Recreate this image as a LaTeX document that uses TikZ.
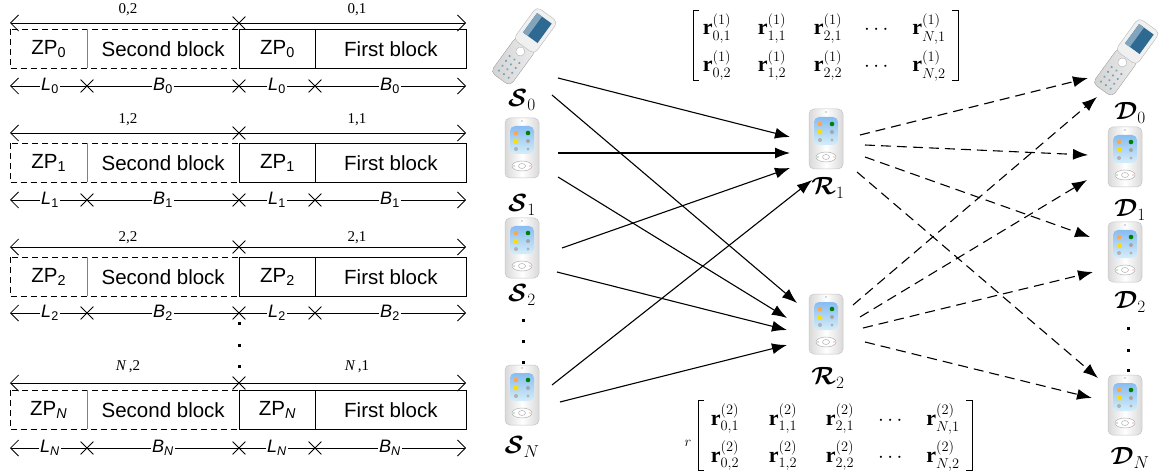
\documentclass[tikz,border=0pt]{standalone}
\usepackage{amsmath,bm}
\usepackage{fontspec}
\setmainfont{Liberation Serif}
\setsansfont{Liberation Sans}
\usetikzlibrary{arrows.meta,shapes.misc,calc}
\definecolor{scrdark}{RGB}{45,105,145}
\definecolor{scrlight}{RGB}{150,210,240}
\tikzset{
  blk/.style={minimum height=39pt, inner sep=0pt, anchor=north west, font=\sffamily\fontsize{20.5}{24}\selectfont},
  sblk/.style={blk, draw, line width=0.8pt},
  dim/.style={line width=0.8pt},
  bothtips/.style={{Straight Barb[length=8pt,width=16pt]}-{Straight Barb[length=8pt,width=16pt]}},
  xmark/.style={cross out, draw, line width=0.8pt, minimum size=12pt, inner sep=0pt},
  dimlab/.style={fill=white, inner sep=1pt, font=\sffamily\fontsize{18}{20}\selectfont},
  toplab/.style={inner sep=0pt, font=\fontsize{15}{17}\selectfont},
  sarrow/.style={-{Latex[length=15pt,width=11pt]}, line width=1.1pt},
  darrow/.style={sarrow, dash pattern=on 10pt off 6pt},
  nodelab/.style={inner sep=0pt, font=\fontsize{24}{28}\selectfont},
  mentry/.style={inner sep=0pt, anchor=base, font=\fontsize{22}{26}\selectfont},
  holder/.style={minimum width=60pt, minimum height=70pt, inner sep=0pt},
  pda/.style={rectangle, rounded corners=5pt, minimum width=34pt, minimum height=60pt,
    inner sep=0pt, draw=gray!45, line width=0.5pt, left color=gray!30, right color=gray!30, middle color=white,
    path picture={
      \fill[gray!60] ([yshift=-3pt]path picture bounding box.north) circle (0.8pt);
      \shade[top color=scrlight!90!blue, bottom color=scrlight!40] ([shift={(-12pt,-6pt)}]path picture bounding box.center) rectangle ([shift={(12pt,22pt)}]path picture bounding box.center);
      \fill[orange!70] ([shift={(-6pt,15pt)}]path picture bounding box.center) circle (2.3pt);
      \fill[green!50!black] ([shift={(6pt,15pt)}]path picture bounding box.center) circle (2.3pt);
      \fill[yellow!80!orange] ([shift={(-8pt,5pt)}]path picture bounding box.center) rectangle ([shift={(-4pt,9pt)}]path picture bounding box.center);
      \fill[gray!70] ([shift={(6pt,7pt)}]path picture bounding box.center) circle (2pt);
      \fill[gray!60] ([shift={(-6pt,-1pt)}]path picture bounding box.center) circle (2pt);
      \fill[gray!60] ([shift={(6pt,-1pt)}]path picture bounding box.center) circle (1.6pt);
      \draw[gray!60, fill=white] ([shift={(0pt,-18pt)}]path picture bounding box.center) ellipse (10pt and 5pt);
      \draw[gray!60] ([shift={(0pt,-18pt)}]path picture bounding box.center) ellipse (3.5pt and 2.5pt);
      \fill[green!60!black] ([shift={(-8pt,-18pt)}]path picture bounding box.center) circle (0.7pt);
      \fill[red!70] ([shift={(8pt,-18pt)}]path picture bounding box.center) circle (0.7pt);
    }},
  flipphone/.pic={
    \begin{scope}[rotate=54]
      \filldraw[draw=gray!55, left color=gray!35, right color=gray!15, rounded corners=5pt] (-42pt,-12pt) rectangle (2pt,12pt);
      \foreach \kx in {-36,-30,-24,-18} {\foreach \ky in {-6,0,6} {\fill[cyan!40!gray] (\kx pt,\ky pt) circle (1.2pt);}}
      \draw[gray!60, fill=white] (-8pt,0pt) circle (4.5pt);
      \filldraw[draw=gray!55, fill=gray!12, rounded corners=5pt] (-2pt,-13pt) rectangle (38pt,13pt);
      \fill[scrdark] (9pt,-9pt) rectangle (33pt,9pt);
      \fill[scrdark!60!white] (9pt,3pt) rectangle (33pt,9pt);
    \end{scope}
  }
}
\begin{document}
\begin{tikzpicture}[x=1pt,y=-1pt]
\fill[white] (0,0) rectangle (1159,473);
\useasboundingbox (0,0) rectangle (1159,473);

% ---------------- left: frame structure ----------------
\foreach \i/\ta/\bt/\ba/\ly/\s/\lab in {0/23/29/86/10/0/0, 1/133/143/200/120/1/1, 2/247/257/313/238/2/2, N/383/390/448/367/{\itshape N}/{\textit{N}\,}} {
  % blocks
  \node[blk, minimum width=77pt] (zpa\i) at (10,\bt) {ZP\textsubscript{\s}};
  \node[blk, minimum width=152pt] (sba\i) at (87,\bt) {Second block};
  \draw[dim, dash pattern=on 6pt off 4pt] (zpa\i.north west) rectangle (sba\i.south east);
  \draw[gray, line width=0.6pt] (zpa\i.north east) -- (zpa\i.south east);
  \node[sblk, minimum width=76pt] (zpb\i) at (239,\bt) {ZP\textsubscript{\s}};
  \node[sblk, minimum width=151pt] (fb\i) at (315,\bt) {First block};
  % top dimension line
  \coordinate (tl\i) at (10,\ta);
  \coordinate (tr\i) at (466,\ta);
  \draw[dim, bothtips] (tl\i) -- (tr\i);
  \node[xmark] (tx\i) at (239,\ta) {};
  \node[toplab] (tla\i) at (128,\ly) {\lab,2};
  \node[toplab] (tlb\i) at (357,\ly) {\lab,1};
  % bottom dimension line
  \coordinate (bl\i) at (10,\ba);
  \coordinate (br\i) at (466,\ba);
  \draw[dim, bothtips] (bl\i) -- (br\i);
  \node[xmark] (bxa\i) at (87,\ba) {};
  \node[xmark] (bxb\i) at (239,\ba) {};
  \node[xmark] (bxc\i) at (315,\ba) {};
  \node[dimlab] (la\i) at (50,\ba) {{\itshape L}\textsubscript{\s}};
  \node[dimlab] (ba\i) at (163,\ba) {{\itshape B}\textsubscript{\s}};
  \node[dimlab] (lb\i) at (277,\ba) {{\itshape L}\textsubscript{\s}};
  \node[dimlab] (bb\i) at (390,\ba) {{\itshape B}\textsubscript{\s}};
}
\foreach \dy in {323,345,366} {\fill (237.5,\dy-1.5) rectangle (240.5,\dy+1.5);}

% ---------------- sources ----------------
\node[holder] (S0) at (525,45) {};
\pic at (S0.center) {flipphone};
\node[nodelab] (S0l) at (522,100) {$\bm{\mathcal{S}}_0$};
\node[pda] (S1) at (522,148) {};
\node[nodelab] (S1l) at (522,205) {$\bm{\mathcal{S}}_1$};
\node[pda] (S2) at (522,248) {};
\node[nodelab] (S2l) at (522,295) {$\bm{\mathcal{S}}_2$};
\foreach \dy in {320,341,362} {\fill (521.5,\dy-1.5) rectangle (524.5,\dy+1.5);}
\node[pda] (SN) at (522,395) {};
\node[nodelab] (SNl) at (522,447) {$\bm{\mathcal{S}}_N$};

% ---------------- relays ----------------
\node[pda] (R1) at (826,139) {};
\node[nodelab] (R1l) at (828,188) {$\bm{\mathcal{R}}_1$};
\node[pda] (R2) at (826,324) {};
\node[nodelab] (R2l) at (828,378) {$\bm{\mathcal{R}}_2$};

% ---------------- destinations ----------------
\node[holder] (D0) at (1127,56) {};
\pic at (D0.center) {flipphone};
\node[nodelab] (D0l) at (1130,113) {$\bm{\mathcal{D}}_0$};
\node[pda] (D1) at (1125,157) {};
\node[nodelab] (D1l) at (1130,210) {$\bm{\mathcal{D}}_1$};
\node[pda] (D2) at (1125,252) {};
\node[nodelab] (D2l) at (1130,302) {$\bm{\mathcal{D}}_2$};
\foreach \dy in {328,350,370} {\fill (1126.5,\dy-1.5) rectangle (1129.5,\dy+1.5);}
\node[pda] (DN) at (1125,405) {};
\node[nodelab] (DNl) at (1130,458) {$\bm{\mathcal{D}}_N$};

% ---------------- solid arrows: sources -> relays ----------------
\draw[sarrow] ([shift={(33,33)}]S0.center) -- ([shift={(-36,-2)}]R1.center);
\draw[sarrow] ([shift={(27,50)}]S0.center) -- ([shift={(-29,-21)}]R2.center);
\draw[sarrow] ([shift={(36,5)}]S1.center) -- ([shift={(-36,14)}]R1.center);
\draw[sarrow] ([shift={(36,29)}]S1.center) -- ([shift={(-39,-6)}]R2.center);
\draw[sarrow] ([shift={(40,0)}]S2.center) -- ([shift={(-36,29)}]R1.center);
\draw[sarrow] ([shift={(35,24)}]S2.center) -- ([shift={(-39,6)}]R2.center);
\draw[sarrow] ([shift={(30,-10)}]SN.center) -- ([shift={(-14,41)}]R1.center);
\draw[sarrow] ([shift={(38,7)}]SN.center) -- ([shift={(-39,21)}]R2.center);

% ---------------- dashed arrows: relays -> destinations ----------------
\draw[darrow] ([shift={(34,-4)}]R1.center) -- ([shift={(-39,22)}]D0.center);
\draw[darrow] ([shift={(39,6)}]R1.center) -- ([shift={(-37,-2)}]D1.center);
\draw[darrow] ([shift={(39,18)}]R1.center) -- ([shift={(-35,-15)}]D2.center);
\draw[darrow] ([shift={(31,33)}]R1.center) -- ([shift={(-27,-27)}]DN.center);
\draw[darrow] ([shift={(27,-19)}]R2.center) -- ([shift={(-30,41)}]D0.center);
\draw[darrow] ([shift={(34,-7)}]R2.center) -- ([shift={(-38,23)}]D1.center);
\draw[darrow] ([shift={(37,4)}]R2.center) -- ([shift={(-32,20)}]D2.center);
\draw[darrow] ([shift={(39,18)}]R2.center) -- ([shift={(-33,-7)}]DN.center);

% ---------------- matrix 1 ----------------
\draw[line width=0.8pt] (699,10) -- (693,10) -- (693,80) -- (699,80);
\draw[line width=0.8pt] (952,10) -- (958,10) -- (958,80) -- (952,80);
\node[mentry] (m11) at (717,35) {$\mathbf{r}_{0,1}^{(1)}$};
\node[mentry] (m12) at (772,35) {$\mathbf{r}_{1,1}^{(1)}$};
\node[mentry] (m13) at (828,35) {$\mathbf{r}_{2,1}^{(1)}$};
\node[mentry] (m14) at (878,35) {$\cdots$};
\node[mentry] (m15) at (929,35) {$\mathbf{r}_{N,1}^{(1)}$};
\node[mentry] (m21) at (717,72) {$\mathbf{r}_{0,2}^{(1)}$};
\node[mentry] (m22) at (772,72) {$\mathbf{r}_{1,2}^{(1)}$};
\node[mentry] (m23) at (828,72) {$\mathbf{r}_{2,2}^{(1)}$};
\node[mentry] (m24) at (878,72) {$\cdots$};
\node[mentry] (m25) at (929,72) {$\mathbf{r}_{N,2}^{(1)}$};

% ---------------- matrix 2 ----------------
\node[inner sep=0pt, font=\fontsize{14}{16}\selectfont] (rlab) at (688,443) {$r$};
\draw[line width=0.8pt] (704,400) -- (698,400) -- (698,470) -- (704,470);
\draw[line width=0.8pt] (966,400) -- (972,400) -- (972,470) -- (966,470);
\node[mentry] (n11) at (725,425) {$\mathbf{r}_{0,1}^{(2)}$};
\node[mentry] (n12) at (783,425) {$\mathbf{r}_{1,1}^{(2)}$};
\node[mentry] (n13) at (840,425) {$\mathbf{r}_{2,1}^{(2)}$};
\node[mentry] (n14) at (892,425) {$\cdots$};
\node[mentry] (n15) at (943,425) {$\mathbf{r}_{N,1}^{(2)}$};
\node[mentry] (n21) at (725,462) {$\mathbf{r}_{0,2}^{(2)}$};
\node[mentry] (n22) at (783,462) {$\mathbf{r}_{1,2}^{(2)}$};
\node[mentry] (n23) at (840,462) {$\mathbf{r}_{2,2}^{(2)}$};
\node[mentry] (n24) at (892,462) {$\cdots$};
\node[mentry] (n25) at (943,462) {$\mathbf{r}_{N,2}^{(2)}$};
\end{tikzpicture}
\end{document}
